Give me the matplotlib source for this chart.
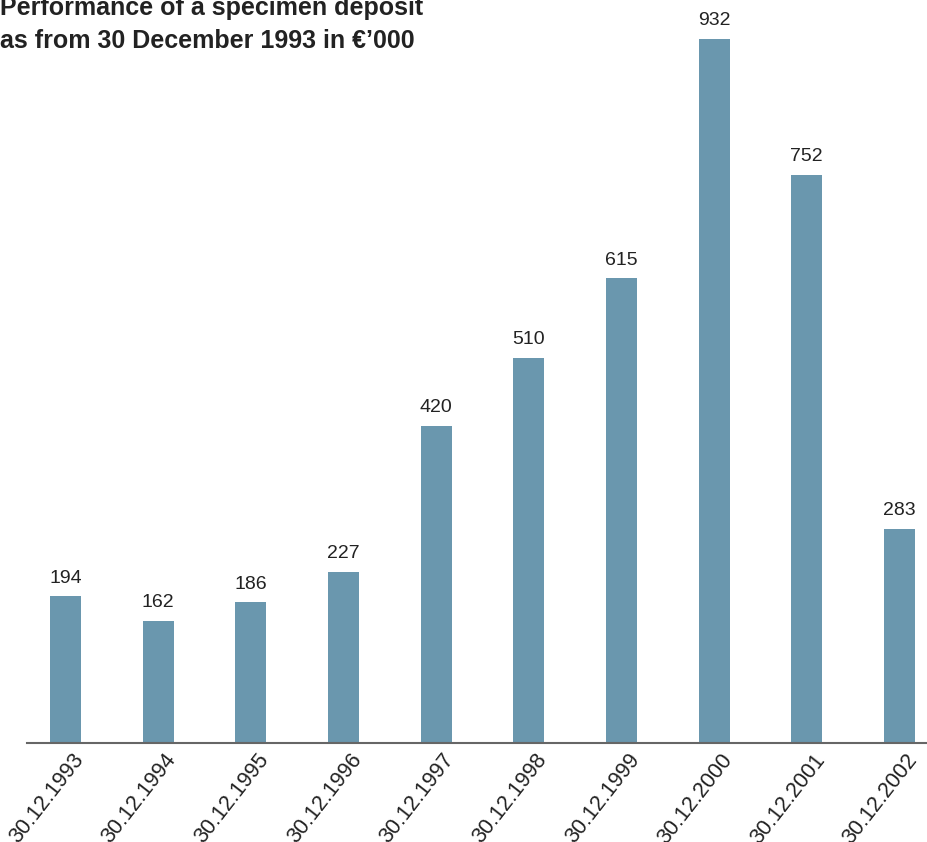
import numpy as np
import matplotlib
matplotlib.use('Agg')
import matplotlib.pyplot as plt
import matplotlib.transforms as mtransforms

plt.rcParams['font.family'] = ['Liberation Sans', 'DejaVu Sans']

dates = ['30.12.1993', '30.12.1994', '30.12.1995', '30.12.1996', '30.12.1997',
         '30.12.1998', '30.12.1999', '30.12.2000', '30.12.2001', '30.12.2002']
values = [194, 162, 186, 227, 420, 510, 615, 932, 752, 283]

bar_color = '#6A97AE'
text_color = '#222222'

fig = plt.figure(figsize=(9.27, 8.42), dpi=100)
ax = fig.add_axes([0.0291, 0.1176, 0.9709, 0.8824])

x = np.arange(len(values))
ax.bar(x, values, width=0.335, color=bar_color, zorder=2)

for xi, v in zip(x, values):
    ax.annotate(str(v), (xi, v), xytext=(0, 7), textcoords='offset points',
                ha='center', va='bottom', fontsize=14, color=text_color)

ax.set_xlim(-0.415, 9.297)
ax.set_ylim(0, 983.6)

for s in ['top', 'right', 'left']:
    ax.spines[s].set_visible(False)
ax.spines['bottom'].set_color('#666666')
ax.spines['bottom'].set_linewidth(1.5)
ax.set_yticks([])
ax.set_xticks(x)
ax.set_xticklabels(dates, rotation=52, ha='right', va='top',
                   rotation_mode='anchor', fontsize=15.5, color=text_color)
ax.tick_params(axis='x', length=0, pad=5)
offset = mtransforms.ScaledTranslation(6 / 100, 0, fig.dpi_scale_trans)
for lbl in ax.get_xticklabels():
    lbl.set_transform(lbl.get_transform() + offset)

# two-line heading, top line runs into the upper edge
fig.text(0.0, 0.9822, 'Performance of a specimen deposit',
         ha='left', va='baseline', fontsize=18, fontweight='bold', color=text_color)
fig.text(0.0, 0.943, 'as from 30 December 1993 in \u20ac\u2019000',
         ha='left', va='baseline', fontsize=18, fontweight='bold', color=text_color)

fig.savefig('out.png', dpi=100)
